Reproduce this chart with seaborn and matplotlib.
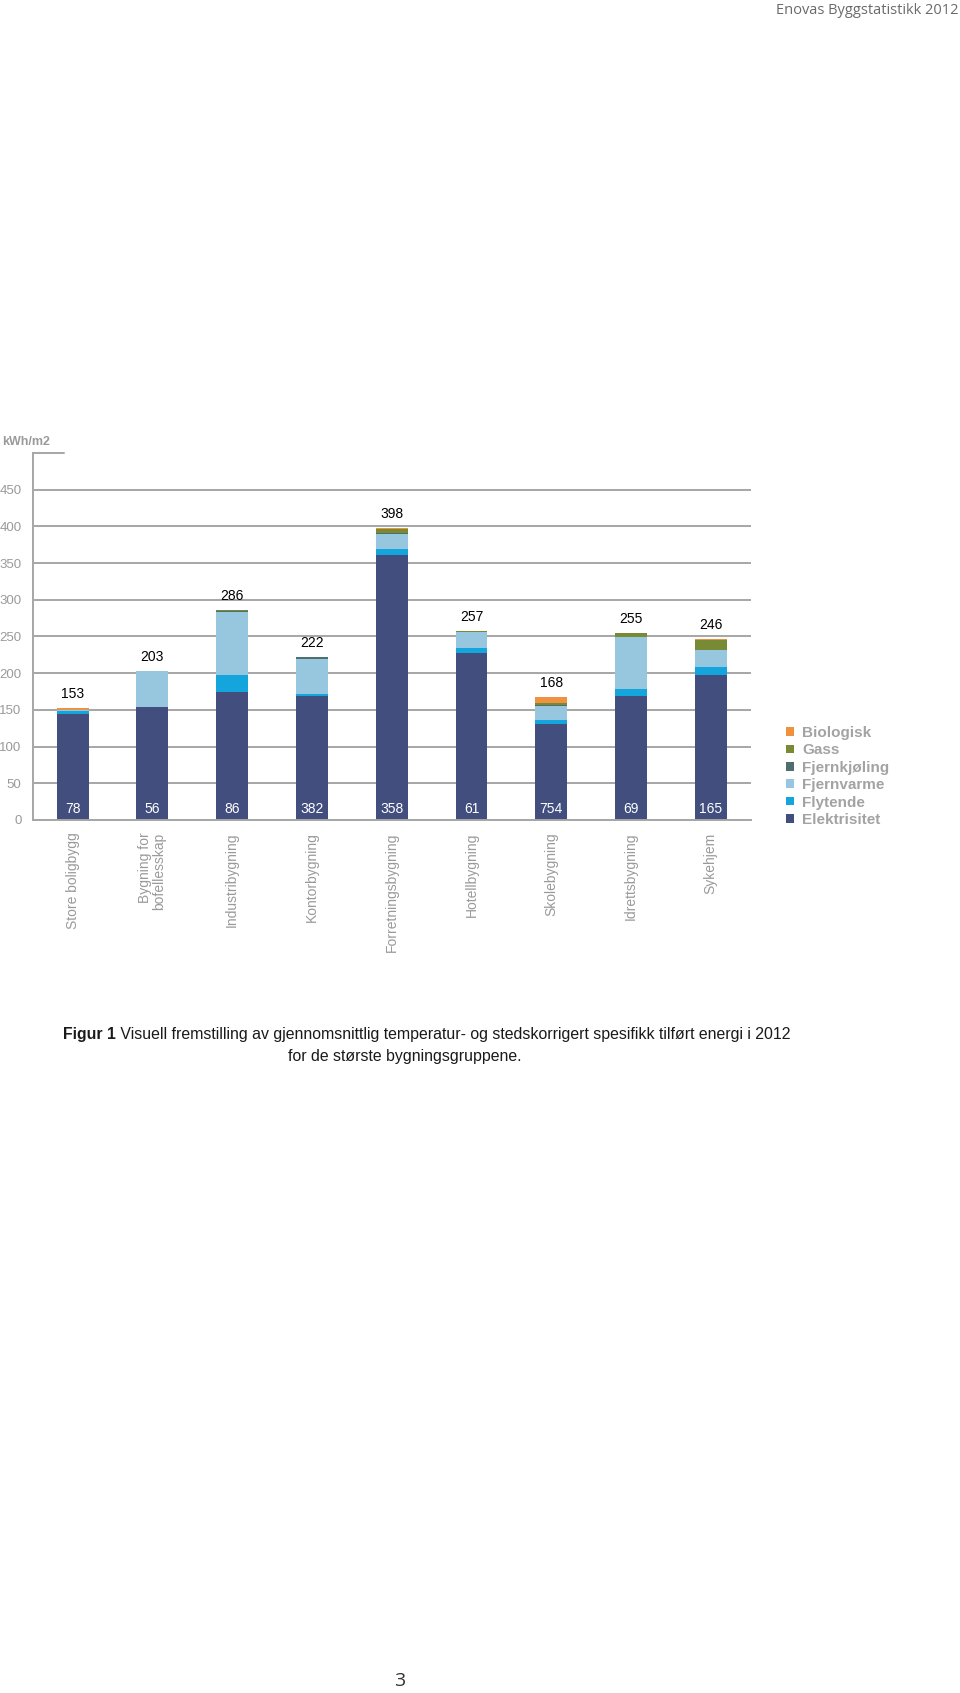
import matplotlib
matplotlib.use("Agg")
import matplotlib.pyplot as plt
from matplotlib.patches import Patch
from matplotlib import font_manager
import seaborn as sns
import pandas as pd

# bygningskategorier og energibærere (kWh/m2), lest av figuren
categories = ["Store boligbygg", "Bygning for\nbofellesskap", "Industribygning", "Kontorbygning",
              "Forretningsbygning", "Hotellbygning", "Skolebygning", "Idrettsbygning", "Sykehjem"]
elektrisitet = [145, 154, 175, 169, 361, 227, 131, 169, 198]
flytende = [4, 0, 22, 3, 8, 7, 5, 9, 10]
fjernvarme = [1.5, 49, 86, 47, 20, 22, 19, 71, 24]
fjernkjoling = [0, 0, 2, 3, 2, 0, 1, 0, 0]
gass = [0, 0, 1, 0, 6, 1, 4, 6, 13]
biologisk = [2.5, 0, 0, 0, 1, 0, 8, 0, 1]
totals = [153, 203, 286, 222, 398, 257, 168, 255, 246]
counts = [78, 56, 86, 382, 358, 61, 754, 69, 165]
yticks = [0, 50, 100, 150, 200, 250, 300, 350, 400, 450]

layers = ["Elektrisitet", "Flytende", "Fjernvarme", "Fjernkjøling", "Gass", "Biologisk"]
colors = {"Elektrisitet": "#414e7e", "Flytende": "#13a5dc", "Fjernvarme": "#96c7de",
          "Fjernkjøling": "#4f6f6f", "Gass": "#788a33", "Biologisk": "#ee9240"}

df = pd.DataFrame({"Elektrisitet": elektrisitet, "Flytende": flytende, "Fjernvarme": fjernvarme,
                   "Fjernkjøling": fjernkjoling, "Gass": gass, "Biologisk": biologisk})
cum = df[layers].cumsum(axis=1)

sns.set_style("white")
plt.rcParams["font.family"] = ["Liberation Sans", "DejaVu Sans"]

names = {f.name for f in font_manager.fontManager.ttflist}
narrow = "Liberation Sans Narrow" in names
cap_font = "Liberation Sans Narrow" if narrow else "Liberation Sans"
cap_size = 12.5 if narrow else 11.4

W, H = 960, 1693
fig = plt.figure(figsize=(W / 100, H / 100), dpi=100)
ax = fig.add_axes([32.7 / W, (H - 820) / H, 718 / W, 367 / H])

grey = "#a6a6a6"
txtgrey = "#9a9a9a"

# stablede søyler: tegn kumulative summer ovenfra og ned
for name in reversed(layers):
    sns.barplot(x=categories, y=cum[name].values, color=colors[name], width=0.4,
                saturation=1, edgecolor="none", linewidth=0, ax=ax)

ax.set_ylim(0, 500)
ax.set_xlim(-0.5, len(categories) - 0.5)
ax.set_yticks(yticks)
ax.yaxis.grid(True, color=grey, linewidth=1.4)
ax.xaxis.grid(False)
ax.set_axisbelow(True)
for s in ["top", "right"]:
    ax.spines[s].set_visible(False)
for s in ["left", "bottom"]:
    ax.spines[s].set_color(grey)
    ax.spines[s].set_linewidth(1.4)
ax.axhline(500, 0, 0.043, color=grey, linewidth=1.4, clip_on=False)

ax.tick_params(axis="y", length=0, pad=8, labelsize=9.5, labelcolor=txtgrey)
ax.set_xticks(range(len(categories)))
ax.set_xticklabels(categories, rotation=90, va="top", ha="center", multialignment="right",
                   fontsize=10, color=txtgrey, linespacing=1.0)
ax.tick_params(axis="x", which="major", length=0, pad=9)
ax.set_xticks([i - 0.5 for i in range(len(categories) + 1)], minor=True)
ax.tick_params(axis="x", which="minor", length=3, width=1.2, color=grey, direction="out")
ax.set_xlabel("")
ax.set_ylabel("")

for i, (t, n) in enumerate(zip(totals, counts)):
    ax.annotate(str(t), (i, t), xytext=(0, 5), textcoords="offset points",
                ha="center", va="bottom", fontsize=10, color="black")
    ax.annotate(str(n), (i, 0), xytext=(0, 8), textcoords="offset points",
                ha="center", va="center", fontsize=10, color="white")

handles = [Patch(facecolor=colors[n], edgecolor="none") for n in reversed(layers)]
leg = ax.legend(handles, list(reversed(layers)), loc="center left",
                bbox_to_anchor=(786 / W, 1 - 776.5 / H), bbox_transform=fig.transFigure,
                frameon=False, prop={"size": 11, "weight": "bold"}, handlelength=0.5,
                handleheight=0.5, handletextpad=0.55, labelspacing=0.22, borderpad=0,
                borderaxespad=0)
for t in leg.get_texts():
    t.set_color("#a3a3a3")

fig.text(2 / W, 1 - 442 / H, "kWh/m2", fontsize=9, fontweight="bold", color=txtgrey,
         ha="left", va="center")
fig.text(958 / W, 1 - 11 / H, "Enovas Byggstatistikk 2012", fontsize=10.5, color="#6a6a6a",
         family="Open Sans", ha="right", va="center")

# figurtekst, første linje med fet "Figur 1"
renderer = fig.canvas.get_renderer()
line1a = "Figur 1"
line1b = " Visuell fremstilling av gjennomsnittlig temperatur- og stedskorrigert spesifikk tilført energi i 2012"
ta = fig.text(0, 1 - 1035 / H, line1a, fontsize=cap_size, fontweight="bold", family=cap_font,
              color="#1a1a1a", ha="left", va="center")
tb = fig.text(0, 1 - 1035 / H, line1b, fontsize=cap_size, family=cap_font,
              color="#1a1a1a", ha="left", va="center")
wa = ta.get_window_extent(renderer).width
wb = tb.get_window_extent(renderer).width
x0 = 427 - (wa + wb) / 2
ta.set_x(x0 / W)
tb.set_x((x0 + wa) / W)
fig.text(405 / W, 1 - 1057 / H, "for de største bygningsgruppene.", fontsize=cap_size,
         family=cap_font, color="#1a1a1a", ha="center", va="center")

fig.text(400 / W, 1 - 1681 / H, "3", fontsize=14, family="Open Sans", color="#333333",
         ha="center", va="center")

fig.savefig("out.png", dpi=100)
